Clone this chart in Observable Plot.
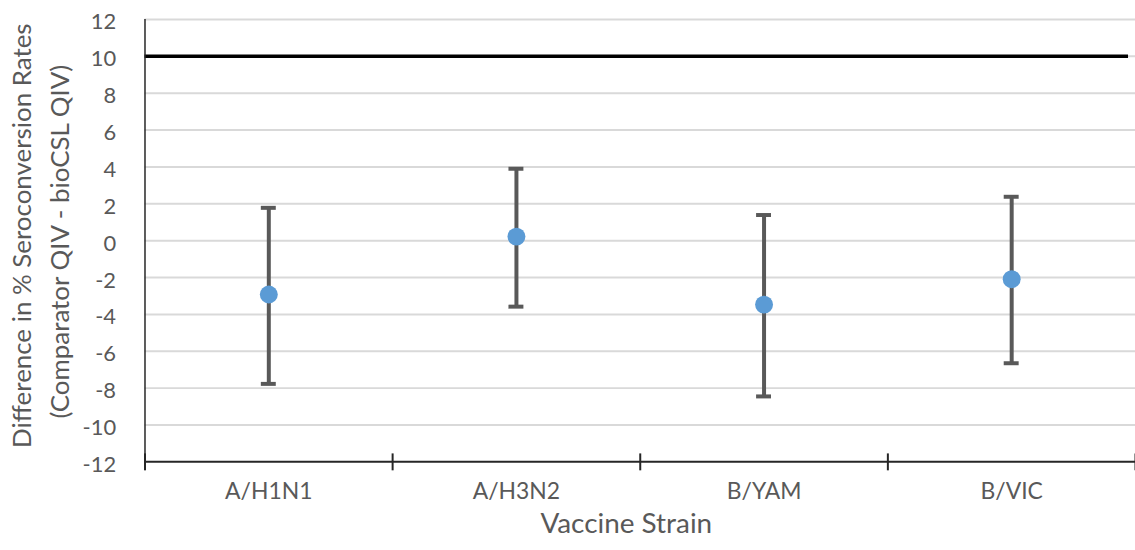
<!DOCTYPE html>
<html><head><meta charset="utf-8">
<script src="https://cdn.jsdelivr.net/npm/d3@7"></script>
<script src="https://cdn.jsdelivr.net/npm/@observablehq/plot@0.6"></script>
<style>
html,body{margin:0;padding:0;background:#fff;overflow:hidden;}
</style></head><body><div id="chart"></div>
<script>
// Data
const strains = ["A/H1N1", "A/H3N2", "B/YAM", "B/VIC"];
const diff = [-2.92, 0.22, -3.47, -2.09];
const lower = [-7.77, -3.58, -8.45, -6.65];
const upper = [1.78, 3.9, 1.39, 2.38];
const yTicks = [-12, -10, -8, -6, -4, -2, 0, 2, 4, 6, 8, 10, 12];
const margin = 10; // non-inferiority margin
const xTitle = "Vaccine Strain";
const yTitle1 = "Difference in % Seroconversion Rates";
const yTitle2 = "(Comparator QIV - bioCSL QIV)";

const data = strains.map((s, i) => ({strain: s, pos: i + 0.5, diff: diff[i], lower: lower[i], upper: upper[i]}));
const boundaries = d3.range(0, strains.length + 1);

const font = "Lato, 'Open Sans', sans-serif";
const textColor = "#595959";

const chart = Plot.plot({
  width: 1139, height: 550,
  marginLeft: 145, marginRight: 0, marginTop: 19, marginBottom: 87,
  style: {fontFamily: font, fontSize: "22px", background: "white", overflow: "visible"},
  x: {type: "linear", domain: [0, strains.length], axis: null},
  y: {domain: [-12, 12], axis: null},
  marks: [
    Plot.ruleY(yTicks.filter(d => d > -12), {y: d => d, stroke: "#d9d9d9", strokeWidth: 2}),
    Plot.ruleY([margin], {y: d => d, stroke: "#000", strokeWidth: 3.5, insetRight: 7}),
    Plot.ruleX([0], {x: d => d, stroke: "#262626", strokeWidth: 1.5}),
    Plot.ruleY([-12], {y: d => d, stroke: "#262626", strokeWidth: 2}),
    Plot.ruleX(boundaries, {x: d => d, y1: -12, y2: -12, insetTop: -8, insetBottom: -9, stroke: "#262626", strokeWidth: 2}),
    Plot.text(yTicks, {y: d => d, text: d => String(d), frameAnchor: "left", textAnchor: "end", dx: -29, dy: 3, fill: textColor, fontSize: 22}),
    Plot.text(data, {x: "pos", text: "strain", frameAnchor: "bottom", textAnchor: "middle", dy: 37, fill: textColor, fontSize: 23, letterSpacing: 1}),
    Plot.text([xTitle], {text: d => d, frameAnchor: "bottom", textAnchor: "middle", dx: -14, dy: 71, fill: textColor, fontSize: 28, letterSpacing: 2.8}),
    Plot.text([yTitle1], {text: d => d, frameAnchor: "left", textAnchor: "middle", rotate: -90, dx: -123, dy: -5, fill: textColor, fontSize: 26, letterSpacing: 1}),
    Plot.text([yTitle2], {text: d => d, frameAnchor: "left", textAnchor: "middle", rotate: -90, dx: -85, dy: 1, fill: textColor, fontSize: 26, letterSpacing: 1}),
    Plot.ruleX(data, {x: "pos", y1: "lower", y2: "upper", stroke: "#595959", strokeWidth: 4}),
    Plot.ruleY(data, {y: "upper", x1: "pos", x2: "pos", insetLeft: -7.5, insetRight: -7.5, stroke: "#595959", strokeWidth: 4}),
    Plot.ruleY(data, {y: "lower", x1: "pos", x2: "pos", insetLeft: -7.5, insetRight: -7.5, stroke: "#595959", strokeWidth: 4}),
    Plot.dot(data, {x: "pos", y: "diff", r: 9, fill: "#5B9BD5", stroke: "none"})
  ]
});
document.getElementById("chart").append(chart);
</script>
</body></html>
